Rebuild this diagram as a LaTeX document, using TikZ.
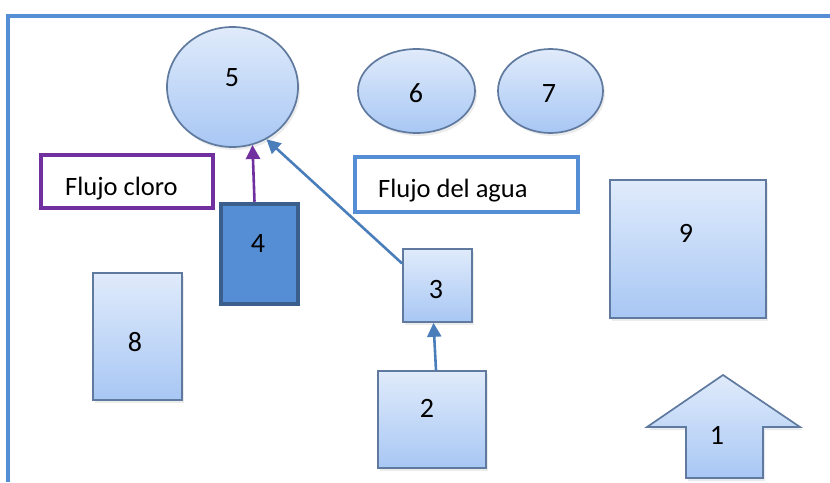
\documentclass[tikz,border=0pt]{standalone}
\usepackage{fontspec}
\setmainfont{Carlito}
\usetikzlibrary{arrows.meta,shapes.geometric,shadows}
\definecolor{frameblue}{HTML}{558ED5}
\definecolor{arrowblue}{HTML}{4A7EBB}
\definecolor{chlorpurple}{HTML}{7030A0}
\definecolor{darkfill}{HTML}{558ED5}
\definecolor{darkedge}{HTML}{3B5F8C}
\definecolor{lighttop}{HTML}{E0EBFB}
\definecolor{lightbot}{HTML}{A8C7F4}
\definecolor{lightedge}{HTML}{5F7A9E}
\tikzset{
  lightshape/.style={draw=lightedge, line width=1.7pt, top color=lighttop, bottom color=lightbot,
    drop shadow={opacity=0.15, shadow xshift=2pt, shadow yshift=-3pt}},
  lightbox/.style={lightshape, rectangle, inner sep=0pt},
  lightoval/.style={lightshape, ellipse, inner sep=0pt},
  legendbox/.style={rectangle, fill=white, line width=3.6pt, inner sep=0pt},
  lbl/.style={font=\fontsize{28}{32}\selectfont, inner sep=0pt, anchor=base},
  txt/.style={font=\fontsize{26.5}{30}\selectfont, inner sep=0pt, anchor=base west},
  flow/.style={line width=2.6pt, -{Triangle[width=14pt,length=14pt]}}
}
\begin{document}
\begin{tikzpicture}[x=1pt,y=-1pt]
\useasboundingbox (0,0) rectangle (830,482);
% frame
\draw[frameblue, line width=3.8pt] (8,482) -- (8,16) -- (832,16);
% ovals
\node[lightoval, minimum width=131pt, minimum height=120pt] (n5) at (232.5,87) {};
\node[lightoval, minimum width=117pt, minimum height=84pt] (n6) at (416.5,91) {};
\node[lightoval, minimum width=105pt, minimum height=84pt] (n7) at (550.5,91) {};
% boxes
\node[lightbox, minimum width=69pt, minimum height=73pt] (n3) at (437.5,285.5) {};
\node[lightbox, minimum width=108pt, minimum height=97pt] (n2) at (432,419.5) {};
\node[lightbox, minimum width=89pt, minimum height=127pt] (n8) at (137.5,336.5) {};
\node[lightbox, minimum width=156pt, minimum height=138pt] (n9) at (688,249) {};
\node[rectangle, draw=darkedge, line width=4.5pt, fill=darkfill, minimum width=77pt, minimum height=100pt, inner sep=0pt] (n4) at (259.5,254) {};
% shape 1 (block arrow)
\fill[lightedge, opacity=0.15] (725,378) -- (802,430) -- (765,430) -- (765,481) -- (688,481) -- (688,430) -- (649,430) -- cycle;
\draw[lightedge, line width=1.7pt, top color=lighttop, bottom color=lightbot]
  (723,375) -- (800,427) -- (763,427) -- (763,478) -- (686,478) -- (686,427) -- (647,427) -- cycle;
% legend boxes
\node[legendbox, draw=chlorpurple, minimum width=172pt, minimum height=53pt] (lc) at (127,181.5) {};
\node[legendbox, draw=frameblue, minimum width=223pt, minimum height=55pt] (la) at (466.5,184.5) {};
\node[txt] (tlc) at (65,195) {Flujo cloro};
\node[txt] (tla) at (378,197) {Flujo del agua};
% labels
\node[lbl] (t5) at (232,86) {5};
\node[lbl] (t6) at (416,102) {6};
\node[lbl] (t7) at (549,102) {7};
\node[lbl] (t4) at (258,252) {4};
\node[lbl] (t3) at (436,298) {3};
\node[lbl] (t2) at (427,417) {2};
\node[lbl] (t8) at (135,351) {8};
\node[lbl] (t9) at (686,242) {9};
\node[lbl] (t1) at (717,444) {1};
% connectors
\draw[flow, chlorpurple] ([xshift=-5pt]n4.north) -- (n5.-71);
\draw[flow, arrowblue] ([yshift=22pt]n3.west) -- (n5.-57);
\draw[flow, arrowblue] ([xshift=4pt]n2.north) -- ([xshift=-4pt]n3.south);
\end{tikzpicture}
\end{document}
